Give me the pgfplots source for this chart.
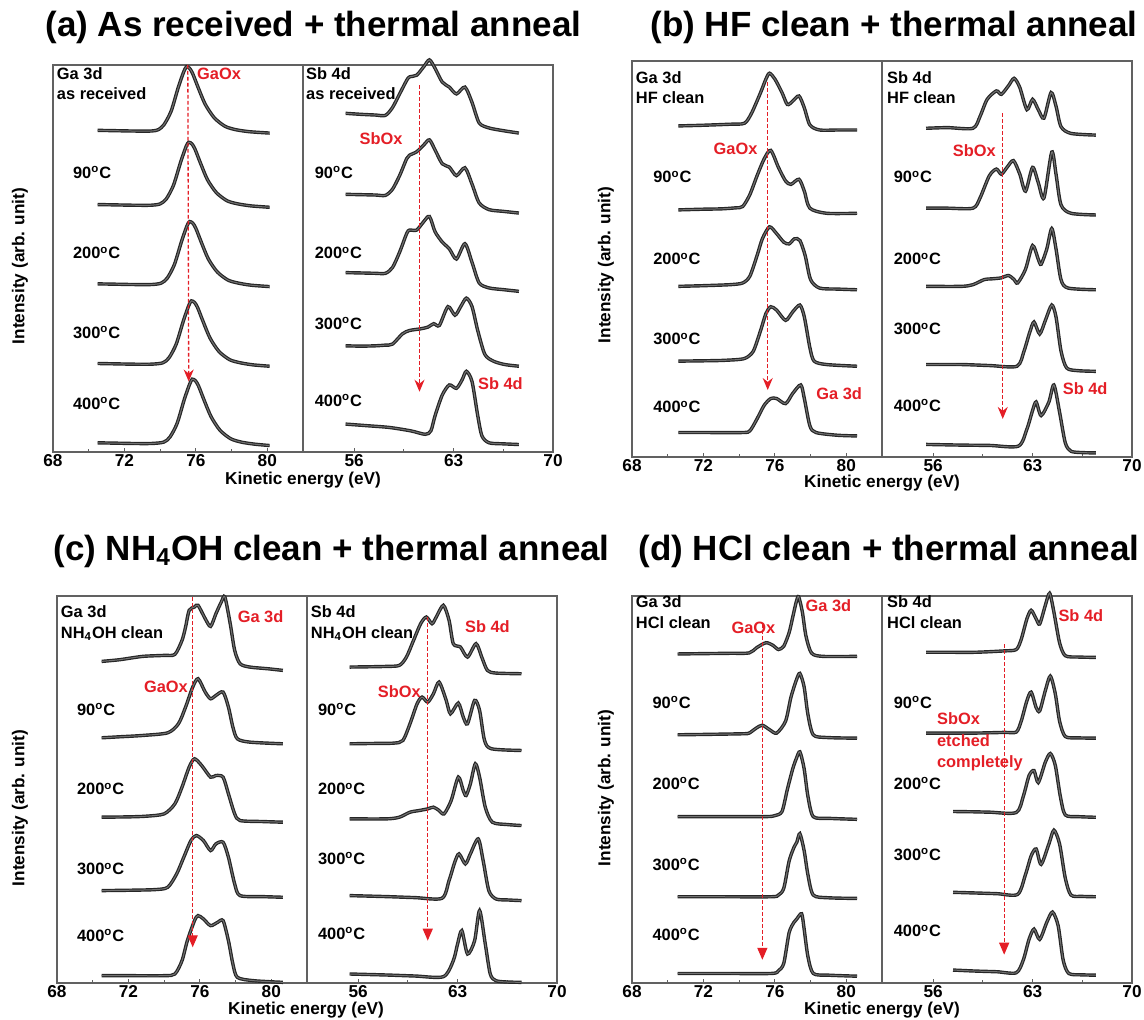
\documentclass[border=0pt]{standalone}
\usepackage{fontspec}
\setmainfont{Liberation Sans}
\usepackage{pgfplots}
\pgfplotsset{compat=1.18}
\usetikzlibrary{arrows.meta}

\definecolor{anno}{RGB}{228,30,38}
\newcommand\lab{\fontsize{8.2}{10.2}\selectfont\bfseries}
\newcommand\dg{\textsuperscript{o}C}

\tikzset{redarrow/.style={anno, line width=0.65pt, dash pattern=on 1.8pt off 1.2pt}}
\pgfplotsset{
  sub/.style={scale only axis, width=125pt, clip=false, ymin=0,
    anchor=south west, ytick=\empty, xtick pos=left, tick align=inside,
    major tick length=2pt, minor tick length=1.3pt,
    axis line style={black!62, line width=0.55pt},
    tick style={black!62, line width=0.45pt},
    /pgf/number format/assume math mode=true,
    tick label style={font=\fontsize{8.6}{9}\selectfont\bfseries},
    xticklabel style={inner sep=1pt}},
  gaax/.style={sub, xmin=68, xmax=82, xtick={68,72,76,80}, minor xtick={70,74,78}},
  sbax/.style={sub, xmin=52.4, xmax=70, xtick={56,63,70}, minor xtick={59.5,66.5}},
  outer/.style={no markers, smooth, tension=0.45, black!85, line width=1.7pt},
  inner/.style={no markers, smooth, tension=0.45, black!55, line width=0.5pt},
}
% one spectrum: #1 = vertical offset of its baseline, #2 = (energy, intensity) rows
\newcommand\spec[2]{%
  \addplot[outer] table[row sep=\\, y expr=\thisrowno{1}+#1]{#2};
  \addplot[inner] table[row sep=\\, y expr=\thisrowno{1}+#1]{#2};
}
\newcommand\temps[5]{% x, then heights for 90, 200, 300, 400 C
  \node[anchor=west, inner sep=0pt, font=\lab] at (axis cs:#1,#2) {90\dg};
  \node[anchor=west, inner sep=0pt, font=\lab] at (axis cs:#1,#3) {200\dg};
  \node[anchor=west, inner sep=0pt, font=\lab] at (axis cs:#1,#4) {300\dg};
  \node[anchor=west, inner sep=0pt, font=\lab] at (axis cs:#1,#5) {400\dg};
}

\begin{document}
\begin{tikzpicture}
\useasboundingbox (0,0) rectangle (572pt,509.5pt);

% ---------------- titles ----------------
\begin{scope}[every node/.style={anchor=base west, inner sep=0pt, font=\fontsize{17.5}{20}\selectfont\bfseries}]
\node at (22.5pt,491pt) {(a) As received + thermal anneal};
\node at (325pt,491pt) {(b) HF clean + thermal anneal};
\node at (26.5pt,229.5pt) {(c) NH\textsubscript{4}OH clean + thermal anneal};
\node at (319pt,229.5pt) {(d) HCl clean + thermal anneal};
\end{scope}

% ---------------- common axis labels ----------------
\begin{scope}[every node/.style={inner sep=0pt, font=\fontsize{8.6}{10}\selectfont\bfseries}]
\node[rotate=90] at (10pt,376.5pt) {Intensity (arb. unit)};
\node[rotate=90] at (303pt,377pt) {Intensity (arb. unit)};
\node[rotate=90] at (10pt,105.5pt) {Intensity (arb. unit)};
\node[rotate=90] at (303pt,115.5pt) {Intensity (arb. unit)};
\node at (151.5pt,269.5pt) {Kinetic energy (eV)};
\node at (441pt,268pt) {Kinetic energy (eV)};
\node at (153pt,4.5pt) {Kinetic energy (eV)};
\node at (441pt,4.3pt) {Kinetic energy (eV)};
\end{scope}

% ================= (a) as received =================
\begin{axis}[gaax, at={(26.5pt,283.5pt)}, height=193.5pt, ymax=1137]
\spec{945}{70.5 0\\ 71.5 -1\\ 72.5 -2\\ 73.5 -2\\ 73.9 2\\ 74.22 17\\ 74.62 57\\ 75.02 127\\ 75.32 172\\ 75.48 187\\ 75.65 182\\ 75.82 167\\ 76.12 127\\ 76.52 77\\ 77.03 37\\ 77.63 12\\ 78.23 2\\ 79.0 -4\\ 80.13 -8\\}
\spec{727}{70.5 0\\ 71.5 -1\\ 72.5 -2\\ 73.5 -2\\ 74.0 2\\ 74.35 17\\ 74.75 57\\ 75.15 125\\ 75.45 170\\ 75.6 183\\ 75.78 178\\ 75.95 163\\ 76.25 123\\ 76.65 73\\ 77.15 35\\ 77.75 11\\ 78.35 2\\ 79.1 -4\\ 80.13 -8\\}
\spec{494}{70.5 0\\ 71.5 -1\\ 72.5 -2\\ 73.5 -2\\ 74.05 2\\ 74.4 17\\ 74.8 57\\ 75.2 125\\ 75.5 170\\ 75.65 183\\ 75.83 178\\ 76.0 163\\ 76.3 123\\ 76.7 73\\ 77.2 35\\ 77.8 11\\ 78.4 2\\ 79.1 -4\\ 80.13 -8\\}
\spec{260}{70.5 0\\ 71.5 -1\\ 72.5 -2\\ 73.5 -2\\ 74.15 2\\ 74.5 17\\ 74.9 57\\ 75.3 125\\ 75.6 170\\ 75.75 184\\ 75.93 179\\ 76.1 164\\ 76.4 124\\ 76.8 74\\ 77.3 35\\ 77.9 11\\ 78.5 2\\ 79.2 -4\\ 80.13 -8\\}
\spec{27}{70.5 0\\ 71.5 -1\\ 72.5 -2\\ 73.5 -2\\ 74.2 2\\ 74.55 17\\ 74.95 57\\ 75.35 127\\ 75.65 172\\ 75.8 187\\ 75.98 182\\ 76.15 167\\ 76.45 127\\ 76.85 77\\ 77.35 37\\ 77.95 12\\ 78.55 2\\ 79.3 -4\\ 80.13 -8\\}
\node[anchor=north west, inner sep=0pt, align=left, font=\lab] at (axis cs:68.2,1131) {Ga 3d\\as received};
\temps{69.1}{822}{585}{352}{142}
\draw[redarrow, -{Stealth[width=5pt,length=6pt]}] (axis cs:75.55,1137) -- (axis cs:75.6,207);
\node[anno, font=\lab] at (axis cs:77.3,1112) {GaOx};
\end{axis}
\begin{axis}[sbax, at={(151.5pt,283.5pt)}, height=193.5pt, ymax=1137]
\spec{992}{55.4 3\\ 56.5 0\\ 57.5 -2\\ 58.2 -3\\ 58.7 20\\ 59.2 60\\ 59.7 100\\ 59.9 110\\ 60.4 115\\ 60.9 140\\ 61.3 160\\ 61.7 135\\ 62.2 95\\ 62.7 80\\ 63.2 60\\ 63.8 80\\ 64.3 35\\ 64.8 -25\\ 65.5 -40\\ 66.5 -48\\ 67.6 -55\\}
\spec{757}{55.4 0\\ 56.5 -1\\ 57.5 -2\\ 58.2 -3\\ 58.7 15\\ 59.2 55\\ 59.7 105\\ 59.9 115\\ 60.4 125\\ 60.9 145\\ 61.3 160\\ 61.7 130\\ 62.2 90\\ 62.7 80\\ 63.2 55\\ 63.8 78\\ 64.3 30\\ 64.8 -25\\ 65.5 -45\\ 66.5 -50\\ 67.6 -55\\}
\spec{527}{55.4 0\\ 56.5 -1\\ 57.5 -2\\ 58.2 -2\\ 58.7 15\\ 59.2 60\\ 59.7 115\\ 59.9 125\\ 60.4 125\\ 60.9 150\\ 61.3 165\\ 61.7 120\\ 62.2 90\\ 62.7 70\\ 63.2 40\\ 63.8 85\\ 64.3 30\\ 64.8 -30\\ 65.5 -45\\ 66.5 -50\\ 67.6 -55\\}
\spec{312}{55.4 0\\ 56.5 -1\\ 57.5 0\\ 58.2 2\\ 58.7 5\\ 59.4 35\\ 59.9 45\\ 60.7 50\\ 61.2 55\\ 61.6 65\\ 62.0 60\\ 62.6 115\\ 63.1 90\\ 63.5 115\\ 63.9 140\\ 64.3 115\\ 64.7 45\\ 65.2 -25\\ 65.8 -45\\ 66.6 -55\\ 67.6 -60\\}
\spec{82}{55.4 0\\ 57 -5\\ 58.5 -10\\ 60 -20\\ 61.0 -30\\ 61.4 -20\\ 61.7 25\\ 62.2 85\\ 62.7 115\\ 63.2 105\\ 63.6 130\\ 63.9 155\\ 64.3 125\\ 64.7 25\\ 65.0 -35\\ 65.5 -55\\ 66.5 -58\\ 67.6 -60\\}
\node[anchor=north west, inner sep=0pt, align=left, font=\lab] at (axis cs:52.6,1131) {Sb 4d\\as received};
\temps{53.2}{822}{585}{377}{152}
\draw[redarrow, -{Stealth[width=5pt,length=6pt]}] (axis cs:60.6,1077) -- (axis cs:60.6,177);
\node[anno, font=\lab] at (axis cs:57.9,922) {SbOx};
\node[anno, font=\lab] at (axis cs:66.3,202) {Sb 4d};
\end{axis}

% ================= (b) HF clean =================
\begin{axis}[gaax, at={(316pt,281pt)}, height=198pt, ymax=1165]
\spec{974}{70.6 0\\ 72 2\\ 73.5 5\\ 74.3 8\\ 74.7 38\\ 75.2 98\\ 75.5 138\\ 75.7 155\\ 76.0 138\\ 76.4 98\\ 76.7 63\\ 77.0 73\\ 77.35 88\\ 77.65 53\\ 77.96 3\\ 78.5 -12\\ 79.5 -12\\ 80.6 -12\\}
\spec{727}{70.6 0\\ 72 2\\ 73 3\\ 73.8 6\\ 74.2 10\\ 74.6 45\\ 75.0 100\\ 75.4 150\\ 75.77 175\\ 76.2 125\\ 76.6 85\\ 76.9 75\\ 77.35 90\\ 77.65 55\\ 77.96 5\\ 78.9 -10\\ 80.6 -10\\}
\spec{502}{70.6 0\\ 72 2\\ 73.5 5\\ 74.2 10\\ 74.6 30\\ 75.0 90\\ 75.3 140\\ 75.7 175\\ 76.1 155\\ 76.5 130\\ 76.8 125\\ 77.1 140\\ 77.4 135\\ 77.7 90\\ 78.0 20\\ 78.5 -5\\ 79.5 -8\\ 80.6 -10\\}
\spec{282}{70.6 0\\ 72 1\\ 73 2\\ 74.0 5\\ 74.4 10\\ 74.8 30\\ 75.2 90\\ 75.5 140\\ 75.77 160\\ 76.1 150\\ 76.6 120\\ 77.0 145\\ 77.4 165\\ 77.65 130\\ 77.96 40\\ 78.2 0\\ 78.9 -10\\ 80.6 -15\\}
\spec{72}{70.6 0\\ 72 0\\ 74.2 0\\ 74.6 5\\ 75.0 40\\ 75.4 80\\ 75.77 100\\ 76.1 100\\ 76.6 85\\ 77.0 115\\ 77.45 140\\ 77.65 100\\ 77.96 20\\ 78.3 0\\ 79.5 -8\\ 80.6 -10\\}
\node[anchor=north west, inner sep=0pt, align=left, font=\lab] at (axis cs:68.2,1136) {Ga 3d\\HF clean};
\temps{69.17}{824}{582}{347}{147}
\draw[redarrow, -{Stealth[width=5pt,length=6pt]}] (axis cs:75.6,1102) -- (axis cs:75.6,197);
\node[anno, font=\lab] at (axis cs:73.8,907) {GaOx};
\node[anno, font=\lab] at (axis cs:79.6,187) {Ga 3d};
\end{axis}
\begin{axis}[sbax, at={(441pt,281pt)}, height=198pt, ymax=1165]
\spec{967}{55.5 0\\ 57 2\\ 58.8 0\\ 59.3 35\\ 59.8 85\\ 60.45 110\\ 60.8 100\\ 61.3 125\\ 61.7 147\\ 62.1 120\\ 62.6 55\\ 63.0 85\\ 63.4 55\\ 63.8 30\\ 64.3 105\\ 64.65 65\\ 65.0 5\\ 65.7 -15\\ 67.45 -20\\}
\spec{732}{55.5 0\\ 57 0\\ 58.8 0\\ 59.3 30\\ 59.95 95\\ 60.45 115\\ 60.8 100\\ 61.2 120\\ 61.65 140\\ 62.1 100\\ 62.5 50\\ 63.0 120\\ 63.4 75\\ 63.8 30\\ 64.35 165\\ 64.65 100\\ 65.0 10\\ 65.7 -15\\ 67.45 -20\\}
\spec{502}{55.5 0\\ 58.0 0\\ 58.8 5\\ 59.6 20\\ 60.1 22\\ 60.8 25\\ 61.3 32\\ 61.7 20\\ 61.95 10\\ 62.5 50\\ 63.0 120\\ 63.4 80\\ 63.6 65\\ 64.0 110\\ 64.35 170\\ 64.65 110\\ 65.0 20\\ 65.5 -5\\ 67.45 -10\\}
\spec{272}{55.5 0\\ 58 0\\ 60 -3\\ 61.9 -5\\ 62.4 40\\ 62.8 95\\ 63.1 125\\ 63.5 90\\ 63.9 130\\ 64.35 175\\ 64.65 140\\ 65.0 40\\ 65.4 -10\\ 66.2 -18\\ 67.45 -20\\}
\spec{37}{55.5 0\\ 58 -2\\ 60 -3\\ 62.0 -5\\ 62.6 45\\ 63.0 100\\ 63.25 125\\ 63.6 85\\ 64.15 125\\ 64.5 175\\ 64.9 95\\ 65.3 5\\ 65.7 -20\\ 66.5 -24\\ 67.45 -25\\}
\node[anchor=north west, inner sep=0pt, align=left, font=\lab] at (axis cs:52.74,1136) {Sb 4d\\HF clean};
\temps{53.2}{824}{582}{377}{152}
\draw[redarrow, -{Stealth[width=5pt,length=6pt]}] (axis cs:60.9,1012) -- (axis cs:60.9,112);
\node[anno, font=\lab] at (axis cs:58.9,902) {SbOx};
\node[anno, font=\lab] at (axis cs:66.7,202) {Sb 4d};
\end{axis}

% ================= (c) NH4OH clean =================
\begin{axis}[gaax, at={(28.5pt,18pt)}, height=193.5pt, ymax=1160]
\spec{964}{70.5 0\\ 71.5 5\\ 72.8 15\\ 74.0 18\\ 74.6 21\\ 75.0 63\\ 75.2 103\\ 75.4 153\\ 75.7 163\\ 75.9 168\\ 76.3 128\\ 76.6 105\\ 76.9 143\\ 77.2 178\\ 77.4 193\\ 77.7 113\\ 77.95 33\\ 78.25 -7\\ 78.8 -17\\ 79.8 -22\\ 80.65 -27\\}
\spec{735}{70.5 0\\ 71.5 3\\ 72.8 7\\ 74.2 15\\ 74.8 42\\ 75.2 92\\ 75.6 152\\ 75.9 177\\ 76.3 137\\ 76.6 117\\ 76.9 127\\ 77.3 137\\ 77.6 92\\ 77.85 32\\ 78.1 -3\\ 78.8 -13\\ 80.65 -18\\}
\spec{497}{70.5 0\\ 72 1\\ 73 3\\ 74.0 10\\ 74.6 40\\ 75.0 90\\ 75.4 150\\ 75.7 175\\ 76.1 155\\ 76.6 120\\ 76.9 125\\ 77.3 120\\ 77.6 70\\ 77.95 10\\ 78.25 -10\\ 79.5 -13\\ 80.65 -15\\}
\spec{277}{70.5 0\\ 72 1\\ 73.5 3\\ 74.2 10\\ 74.7 50\\ 75.1 100\\ 75.5 150\\ 75.8 165\\ 76.2 150\\ 76.6 120\\ 76.9 140\\ 77.3 145\\ 77.6 100\\ 77.95 20\\ 78.25 -15\\ 79.5 -18\\ 80.65 -20\\}
\spec{22}{70.5 0\\ 72 0\\ 74.0 0\\ 74.6 5\\ 75.0 45\\ 75.3 105\\ 75.7 165\\ 75.9 180\\ 76.2 170\\ 76.6 150\\ 77.0 160\\ 77.3 165\\ 77.6 105\\ 77.85 35\\ 78.1 -5\\ 79.0 -15\\ 80.65 -20\\}
\node[anchor=north west, inner sep=0pt, align=left, font=\lab] at (axis cs:68.2,1132) {Ga 3d\\NH\textsubscript{4}OH clean};
\temps{69.1}{819}{582}{342}{142}
\draw[redarrow, -{Triangle[width=5pt,length=6pt]}] (axis cs:75.6,1157) -- (axis cs:75.6,107);
\node[anno, font=\lab] at (axis cs:74.1,887) {GaOx};
\node[anno, font=\lab] at (axis cs:79.4,1099) {Ga 3d};
\end{axis}
\begin{axis}[sbax, at={(153.5pt,18pt)}, height=193.5pt, ymax=1160]
\spec{947}{55.4 0\\ 57 1\\ 58.0 2\\ 58.9 5\\ 59.4 30\\ 59.9 80\\ 60.4 130\\ 60.8 150\\ 61.2 130\\ 61.5 150\\ 62.0 185\\ 62.4 140\\ 62.7 70\\ 63.2 60\\ 63.7 30\\ 64.3 70\\ 64.7 30\\ 65.1 -10\\ 65.7 -18\\ 67.5 -20\\}
\spec{717}{55.4 0\\ 57 1\\ 58.5 2\\ 59.15 10\\ 59.65 60\\ 60.15 120\\ 60.5 140\\ 60.9 125\\ 61.3 150\\ 61.7 185\\ 62.2 130\\ 62.5 90\\ 63.05 122\\ 63.4 80\\ 63.7 60\\ 64.2 130\\ 64.55 100\\ 64.9 10\\ 65.4 -15\\ 67.5 -20\\}
\spec{492}{55.4 0\\ 58.0 0\\ 58.9 5\\ 59.65 20\\ 60.3 25\\ 60.9 30\\ 61.3 35\\ 61.7 25\\ 62.05 15\\ 62.55 55\\ 63.05 125\\ 63.4 85\\ 63.6 70\\ 63.9 105\\ 64.25 165\\ 64.55 125\\ 64.95 35\\ 65.45 -10\\ 66.5 -17\\ 67.5 -20\\}
\spec{262}{55.4 0\\ 58 -3\\ 60 -6\\ 61.9 -8\\ 62.4 45\\ 62.8 100\\ 63.1 125\\ 63.55 95\\ 63.9 125\\ 64.45 170\\ 64.8 105\\ 65.2 15\\ 65.7 -10\\ 66.5 -13\\ 67.5 -15\\}
\spec{27}{55.4 0\\ 58 -3\\ 60 -6\\ 62.0 -8\\ 62.7 40\\ 63.0 90\\ 63.3 130\\ 63.7 60\\ 64.2 100\\ 64.55 190\\ 64.95 90\\ 65.3 0\\ 65.7 -20\\ 66.5 -24\\ 67.5 -25\\}
\node[anchor=north west, inner sep=0pt, align=left, font=\lab] at (axis cs:52.65,1132) {Sb 4d\\NH\textsubscript{4}OH clean};
\temps{53.15}{819}{582}{374}{149}
\draw[redarrow, -{Triangle[width=5pt,length=6pt]}] (axis cs:60.9,1097) -- (axis cs:60.9,127);
\node[anno, font=\lab] at (axis cs:58.9,872) {SbOx};
\node[anno, font=\lab] at (axis cs:65.1,1069) {Sb 4d};
\end{axis}

% ================= (d) HCl clean =================
\begin{axis}[gaax, at={(316pt,18pt)}, height=193.5pt, ymax=1135]
\spec{965}{70.56 0\\ 72 1\\ 73.5 2\\ 74.56 3\\ 74.97 18\\ 75.5 33\\ 75.9 25\\ 76.2 13\\ 76.5 23\\ 76.8 63\\ 77.0 108\\ 77.2 153\\ 77.33 168\\ 77.54 123\\ 77.74 53\\ 78.05 3\\ 78.67 -7\\ 80.6 -7\\}
\spec{728}{70.56 0\\ 72 1\\ 74.2 3\\ 74.56 5\\ 74.97 20\\ 75.3 28\\ 75.7 15\\ 76.1 5\\ 76.6 40\\ 76.9 110\\ 77.2 160\\ 77.4 180\\ 77.64 140\\ 77.85 60\\ 78.15 0\\ 78.9 -8\\ 80.6 -10\\}
\spec{488}{70.56 0\\ 73 0\\ 75.5 0\\ 76.0 3\\ 76.4 15\\ 76.7 80\\ 77.0 140\\ 77.2 170\\ 77.4 190\\ 77.64 140\\ 77.85 60\\ 78.15 0\\ 79.0 -5\\ 80.6 -8\\}
\spec{253}{70.56 0\\ 73 0\\ 75.8 0\\ 76.2 5\\ 76.5 25\\ 76.8 105\\ 77.07 145\\ 77.23 160\\ 77.4 185\\ 77.64 135\\ 77.85 65\\ 78.15 5\\ 79.0 -3\\ 80.6 -5\\}
\spec{28}{70.56 0\\ 73 0\\ 75.8 0\\ 76.2 8\\ 76.5 30\\ 76.8 120\\ 77.07 150\\ 77.23 160\\ 77.5 175\\ 77.64 130\\ 77.85 50\\ 78.15 0\\ 79.0 -5\\ 80.6 -8\\}
\node[anchor=north west, inner sep=0pt, align=left, font=\lab] at (axis cs:68.2,1136) {Ga 3d\\HCl clean};
\temps{69.13}{823}{586}{348}{143}
\draw[redarrow, -{Triangle[width=5pt,length=6pt]}] (axis cs:75.3,1053) -- (axis cs:75.3,68);
\node[anno, font=\lab] at (axis cs:74.8,1043) {GaOx};
\node[anno, font=\lab] at (axis cs:79.0,1108) {Ga 3d};
\end{axis}
\begin{axis}[sbax, at={(441pt,18pt)}, height=193.5pt, ymax=1135]
\spec{970}{55.5 0\\ 57 0\\ 59 0\\ 61.0 4\\ 61.85 8\\ 62.2 38\\ 62.6 98\\ 62.9 123\\ 63.25 98\\ 63.5 83\\ 63.9 138\\ 64.2 173\\ 64.5 118\\ 64.9 28\\ 65.3 -10\\ 66.2 -14\\ 67.45 -15\\}
\spec{733}{55.5 0\\ 57 0\\ 59 0\\ 61.0 2\\ 61.85 3\\ 62.2 35\\ 62.6 95\\ 62.9 120\\ 63.25 75\\ 63.5 65\\ 63.9 125\\ 64.25 167\\ 64.6 115\\ 64.9 35\\ 65.3 -10\\ 66.2 -14\\ 67.45 -15\\}
\spec{503}{57.4 0\\ 59 -1\\ 60 -2\\ 61.85 -3\\ 62.35 45\\ 62.75 105\\ 63.1 120\\ 63.4 85\\ 63.9 145\\ 64.25 170\\ 64.6 135\\ 64.95 45\\ 65.3 -10\\ 66.2 -15\\ 67.45 -17\\}
\spec{266}{57.4 0\\ 59 -2\\ 60.5 -4\\ 61.95 -6\\ 62.5 52\\ 62.9 107\\ 63.25 127\\ 63.6 82\\ 64.15 142\\ 64.5 182\\ 64.9 142\\ 65.3 42\\ 65.7 -8\\ 66.5 -12\\ 67.45 -13\\}
\spec{38}{57.4 0\\ 59 -3\\ 60.5 -5\\ 61.85 -8\\ 62.35 30\\ 62.75 90\\ 63.1 120\\ 63.5 90\\ 64.0 140\\ 64.4 170\\ 64.8 130\\ 65.15 30\\ 65.55 -10\\ 66.5 -14\\ 67.45 -15\\}
\node[anchor=north west, inner sep=0pt, align=left, font=\lab] at (axis cs:52.74,1136) {Sb 4d\\HCl clean};
\temps{53.2}{823}{586}{376}{153}
\draw[redarrow, -{Triangle[width=5pt,length=6pt]}] (axis cs:61.0,993) -- (axis cs:61.0,83);
\node[anno, anchor=north west, inner sep=0pt, align=left, font=\fontsize{8.2}{10.7}\selectfont\bfseries] at (axis cs:56.25,793) {SbOx\\etched\\completely};
\node[anno, font=\lab] at (axis cs:66.4,1078) {Sb 4d};
\end{axis}
\end{tikzpicture}
\end{document}
